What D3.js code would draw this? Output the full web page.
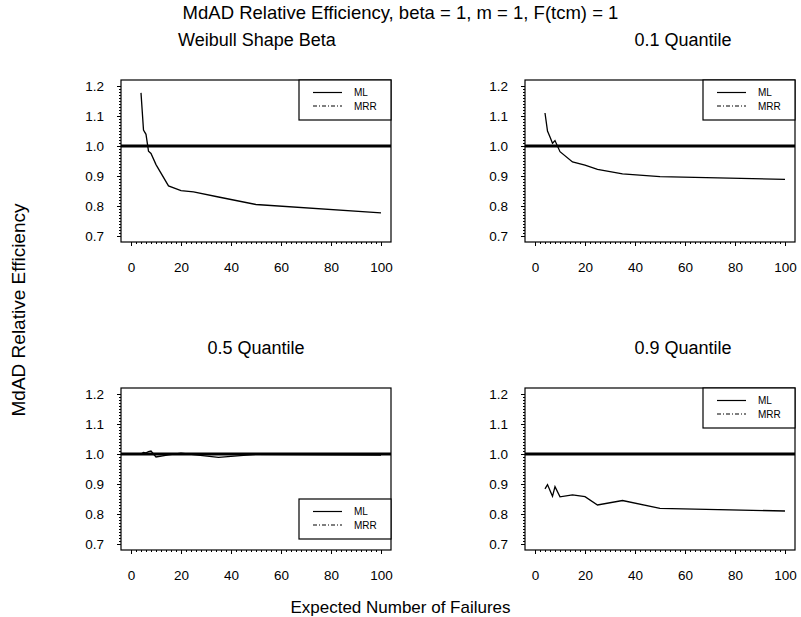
<!DOCTYPE html>
<html lang="en">
<head>
    <meta charset="UTF-8">
    <title>MdAD Relative Efficiency</title>
    <script src="https://d3js.org/d3.v7.min.js"></script>
    <style>
        body, html {
            margin: 0;
            padding: 0;
            background: white;
        }
        svg {
            display: block;
            font-family: 'Liberation Sans', Arial, sans-serif;
        }
    </style>
</head>
<body>
    <script>
        'use strict'

        // values
        const failures = [4, 5, 6, 7, 8, 10, 15, 20, 25, 35, 50, 100]
        const shapeBeta = [1.177, 1.053, 1.039, 0.983, 0.975, 0.938, 0.867, 0.851, 0.847, 0.830, 0.805, 0.777]
        const quantile10 = [1.110, 1.050, 1.030, 1.009, 1.018, 0.981, 0.947, 0.936, 0.922, 0.907, 0.898, 0.889]
        const quantile50 = [1.000, 1.005, 1.004, 1.008, 1.010, 0.990, 0.997, 1.003, 0.998, 0.989, 0.999, 0.996]
        const quantile90 = [0.884, 0.898, 0.878, 0.859, 0.891, 0.857, 0.864, 0.858, 0.830, 0.845, 0.819, 0.810]

        const panelTitles = ['Weibull Shape Beta', '0.1 Quantile', '0.5 Quantile', '0.9 Quantile']
        const panelSeries = [shapeBeta, quantile10, quantile50, quantile90]
        const legendCorner = ['top', 'top', 'bottom', 'top']
        const legendLabels = ['ML', 'MRR']

        const xTicks = [0, 20, 40, 60, 80, 100]
        const yTicks = [0.7, 0.8, 0.9, 1.0, 1.1, 1.2]
        const refLevel = 1.0

        //layout
        const W = 801, H = 617
        const frameW = 270, frameH = 162
        const panelPos = [[121, 80], [525, 80], [121, 388], [525, 388]]
        const titleX = [136, 158, 135, 158]

        const svg = d3.select('body')
            .append('svg')
            .attr('width', W)
            .attr('height', H)

        const x = d3.scaleLinear().domain([-4, 104]).range([0, frameW])
        const y = d3.scaleLinear().domain([0.68, 1.22]).range([frameH, 0])

        const xMinor = d3.range(0, 101, 2)
        const yMinor = d3.range(0, 51).map(i => 0.7 + i * 0.01)

        //titles
        svg.append('text')
            .text('MdAD Relative Efficiency, beta = 1, m = 1, F(tcm) = 1')
            .attr('x', W / 2)
            .attr('y', 19)
            .attr('text-anchor', 'middle')
            .style('font-size', '18.5px')

        svg.append('text')
            .text('MdAD Relative Efficiency')
            .attr('transform', `translate(25, 310) rotate(-90)`)
            .attr('text-anchor', 'middle')
            .style('font-size', '19px')

        svg.append('text')
            .text('Expected Number of Failures')
            .attr('x', W / 2)
            .attr('y', 613)
            .attr('text-anchor', 'middle')
            .style('font-size', '17px')

        const line = d3.line()
            .x((d, i) => x(failures[i]))
            .y(d => y(d))

        panelSeries.forEach((series, p) => {
            const [px, py] = panelPos[p]
            const g = svg.append('g')
                .attr('transform', `translate(${px}, ${py})`)

            g.append('text')
                .text(panelTitles[p])
                .attr('x', titleX[p])
                .attr('y', -34)
                .attr('text-anchor', 'middle')
                .style('font-size', '18px')

            //axes with minor ticks
            const yAxis = d3.axisLeft(y).tickValues(yTicks).tickSize(4).tickPadding(13)
                .tickFormat(d3.format('.1f'))
            const yAxisMinor = d3.axisLeft(y).tickValues(yMinor).tickSize(2).tickFormat('')
            const xAxis = d3.axisBottom(x).tickValues(xTicks).tickSize(4).tickPadding(16)
            const xAxisMinor = d3.axisBottom(x).tickValues(xMinor).tickSize(2).tickFormat('')

            g.append('g').call(yAxisMinor)
            g.append('g').call(yAxis)
            g.append('g').attr('transform', `translate(0, ${frameH})`).call(xAxisMinor)
            g.append('g').attr('transform', `translate(0, ${frameH})`).call(xAxis)

            g.selectAll('.domain').remove()
            g.selectAll('.tick line').attr('stroke', 'black')
            g.selectAll('.tick text')
                .style('font-size', '13.5px')
                .style('font-family', "'Liberation Sans', Arial, sans-serif")
                .attr('fill', 'black')

            //frame
            g.append('rect')
                .attr('width', frameW)
                .attr('height', frameH)
                .attr('fill', 'none')
                .attr('stroke', 'black')
                .attr('stroke-width', 1.2)

            //reference at 1
            g.append('line')
                .attr('x1', 0)
                .attr('x2', frameW)
                .attr('y1', y(refLevel))
                .attr('y2', y(refLevel))
                .attr('stroke', 'black')
                .attr('stroke-width', 3)

            g.append('path')
                .datum(series)
                .attr('d', line)
                .attr('fill', 'none')
                .attr('stroke', 'black')
                .attr('stroke-width', 1.3)

            //legend
            const lw = 92, lh = 40
            const ly = legendCorner[p] === 'top' ? 0 : frameH - 11 - lh
            const legend = g.append('g')
                .attr('transform', `translate(${frameW - lw}, ${ly})`)

            legend.append('rect')
                .attr('width', lw)
                .attr('height', lh)
                .attr('fill', 'white')
                .attr('stroke', 'black')
                .attr('stroke-width', 1.2)

            legend.selectAll('line.key')
                .data(legendLabels)
                .enter()
                .append('line')
                .attr('class', 'key')
                .attr('x1', 14)
                .attr('x2', 43)
                .attr('y1', (d, i) => 12.5 + i * 13.5)
                .attr('y2', (d, i) => 12.5 + i * 13.5)
                .attr('stroke', 'black')
                .attr('stroke-width', 1.2)
                .attr('stroke-dasharray', (d, i) => i === 0 ? null : '4,2,1,2')

            legend.selectAll('text')
                .data(legendLabels)
                .enter()
                .append('text')
                .text(d => d)
                .attr('x', 55)
                .attr('y', (d, i) => 12.5 + i * 13.5)
                .attr('dy', '0.35em')
                .style('font-size', '10px')
        })
    </script>
</body>
</html>
